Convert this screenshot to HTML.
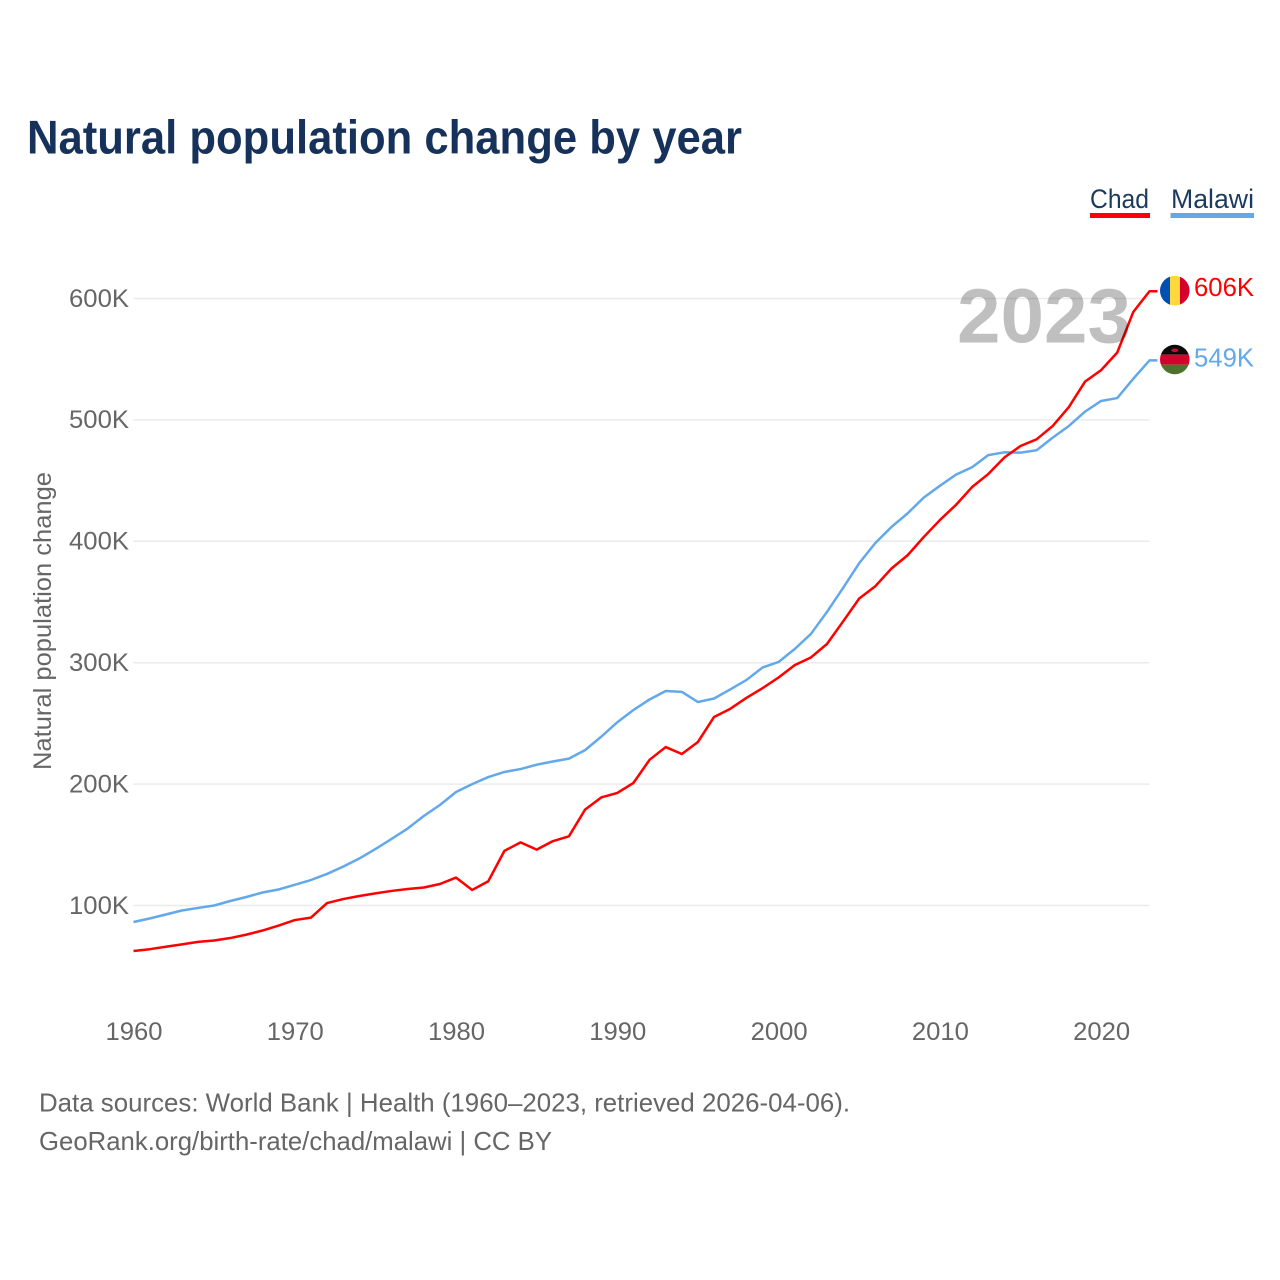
<!DOCTYPE html>
<html lang="en">
<head>
<meta charset="utf-8">
<title>Natural population change by year</title>
<style>
html,body{margin:0;padding:0;background:#fff;width:1280px;height:1280px;overflow:hidden}
svg{display:block;font-family:"Liberation Sans",sans-serif}
</style>
</head>
<body>
<svg id="chart" xmlns="http://www.w3.org/2000/svg" width="1280" height="1280" viewBox="0 0 1280 1280">
  <defs>
    <clipPath id="clip-chad"><circle cx="1174.8" cy="290.7" r="14.8"/></clipPath>
    <clipPath id="clip-malawi"><circle cx="1174.8" cy="359.5" r="14.8"/></clipPath>
  </defs>
  <text x="27" y="153.5" font-size="47" font-weight="700" fill="#17325a" textLength="715" lengthAdjust="spacingAndGlyphs">Natural population change by year</text>

  <g>
    <g>
      <text x="1090" y="208" font-size="27" fill="#1c3a5e" textLength="59" lengthAdjust="spacingAndGlyphs">Chad</text>
      <rect x="1090" y="213" width="60" height="5" fill="#ff0000"/>
    </g>
    <g>
      <text x="1171" y="208" font-size="27" fill="#1c3a5e" textLength="83" lengthAdjust="spacingAndGlyphs">Malawi</text>
      <rect x="1170.5" y="213" width="83.5" height="5" fill="#62a8ea"/>
    </g>
  </g>

  <g id="grid"></g>
  <g id="y-ticks"></g>
  <g id="x-ticks"></g>
  <text transform="translate(51 621) rotate(-90)" text-anchor="middle" font-size="25" fill="#666666" textLength="298" lengthAdjust="spacingAndGlyphs">Natural population change</text>

  <g id="series"></g>

  <text x="1131" y="342.5" text-anchor="end" font-size="77" font-weight="700" fill="#000000" fill-opacity="0.25" textLength="174" lengthAdjust="spacingAndGlyphs">2023</text>

  <g clip-path="url(#clip-chad)">
    <rect x="1160" y="275" width="10" height="32" fill="#0050b0"/>
    <rect x="1170" y="275" width="10" height="32" fill="#ffd83d"/>
    <rect x="1180" y="275" width="10" height="32" fill="#d5002b"/>
  </g>
  <g clip-path="url(#clip-malawi)">
    <rect x="1160" y="344" width="30" height="10.7" fill="#0a0a0a"/>
    <rect x="1160" y="354.7" width="30" height="10" fill="#d5002b"/>
    <rect x="1160" y="364.7" width="30" height="11" fill="#4f712e"/>
    <ellipse cx="1174.8" cy="350.3" rx="3.5" ry="1.8" fill="#c8102e"/>
  </g>
  <g id="end-labels"></g>

  <g>
    <text x="39" y="1111.5" font-size="26" fill="#666666" textLength="811" lengthAdjust="spacingAndGlyphs">Data sources: World Bank | Health (1960–2023, retrieved 2026-04-06).</text>
    <text x="39" y="1150" font-size="26" fill="#666666" textLength="513" lengthAdjust="spacingAndGlyphs">GeoRank.org/birth-rate/chad/malawi | CC BY</text>
  </g>
</svg>
<script>
const years = [1960,1961,1962,1963,1964,1965,1966,1967,1968,1969,1970,1971,1972,1973,1974,1975,1976,1977,1978,1979,1980,1981,1982,1983,1984,1985,1986,1987,1988,1989,1990,1991,1992,1993,1994,1995,1996,1997,1998,1999,2000,2001,2002,2003,2004,2005,2006,2007,2008,2009,2010,2011,2012,2013,2014,2015,2016,2017,2018,2019,2020,2021,2022,2023];
const chadValues = [62.5,64,66,68,70,71.2,73.2,76,79.4,83.5,88,90,102,105.3,107.8,110,112,113.6,114.8,117.7,123,112.8,120,145,152,146,153,157,179,189,192.7,201,220,230.5,224.8,234.7,255.3,262,271,279,287.8,298,304.3,315.4,334,352.9,363,377.6,388.5,403.5,417.5,430,444.7,455.4,469,478.5,484,495,510.6,531.5,541,555.5,589,606];
const malawiValues = [86.4,89.3,92.6,95.9,98,100,103.7,107,110.7,113.2,117,121,126,132,138.7,146.5,154.8,163.4,173.7,182.8,193.5,200,205.8,210,212.4,216,218.6,221,228,239,251,261,269.7,276.7,276,267.6,270.5,278,285.7,296,300.6,311.3,323.6,341.8,361.6,382,398.6,411.8,423,436,445.7,454.9,461,471,473.3,473,475,485.4,495,506.8,515.6,518,534,549];
const yTickValues = [100,200,300,400,500,600];
const xTickValues = [1960,1970,1980,1990,2000,2010,2020];
const chadEndLabel = "606K";
const malawiEndLabel = "549K";

const NS = "http://www.w3.org/2000/svg";
function xScale(year){ return 133.5 + (year - 1960) * (1149.5 - 133.5) / 63; }
function yScale(value){ return 905.5 - (value - 100) * (905.5 - 298.5) / 500; }
function make(tag, parent, attrs, text){
  const el = document.createElementNS(NS, tag);
  for (const k in attrs) el.setAttribute(k, attrs[k]);
  if (text !== undefined) el.textContent = text;
  parent.appendChild(el);
  return el;
}
const grid = document.getElementById("grid");
const yTicks = document.getElementById("y-ticks");
const xTicks = document.getElementById("x-ticks");
const series = document.getElementById("series");
const endLabels = document.getElementById("end-labels");

yTickValues.forEach(function(v){
  const line = make("line", grid, {x1:133, x2:1149.5, y1:yScale(v), y2:yScale(v), stroke:"#ebebeb", "stroke-width":1.5});
  
  
  const label = make("text", yTicks, {x:129, y:yScale(v)+8.3, "text-anchor":"end", "font-size":25, fill:"#666666", textLength:60, lengthAdjust:"spacingAndGlyphs"}, v + "K");
  
  
});
xTickValues.forEach(function(y){
  const label = make("text", xTicks, {x:xScale(y) + 0.5, y:1040, "text-anchor":"middle", "font-size":25, fill:"#666666", textLength:57, lengthAdjust:"spacingAndGlyphs"}, String(y));
  
  
});
function linePoints(values){
  const pts = values.map(function(v, i){ return xScale(years[i]).toFixed(2) + "," + yScale(v).toFixed(2); });
  const last = values[values.length - 1];
  pts.push((xScale(years[years.length - 1]) + 8).toFixed(2) + "," + yScale(last).toFixed(2));
  return pts.join(" ");
}
const malawiLine = make("polyline", series, {points:linePoints(malawiValues), fill:"none", stroke:"#62a8ea", "stroke-width":2.5, "stroke-linejoin":"round"});


const chadLine = make("polyline", series, {points:linePoints(chadValues), fill:"none", stroke:"#ff0000", "stroke-width":2.5, "stroke-linejoin":"round"});



const chadLabel = make("text", endLabels, {x:1194, y:yScale(chadValues[chadValues.length-1])+5, "font-size":25.5, fill:"#ff0000", textLength:60, lengthAdjust:"spacingAndGlyphs"}, chadEndLabel);


const malawiLabel = make("text", endLabels, {x:1194, y:yScale(malawiValues[malawiValues.length-1])+6, "font-size":25.5, fill:"#62a8ea", textLength:60, lengthAdjust:"spacingAndGlyphs"}, malawiEndLabel);


</script>
</body>
</html>
